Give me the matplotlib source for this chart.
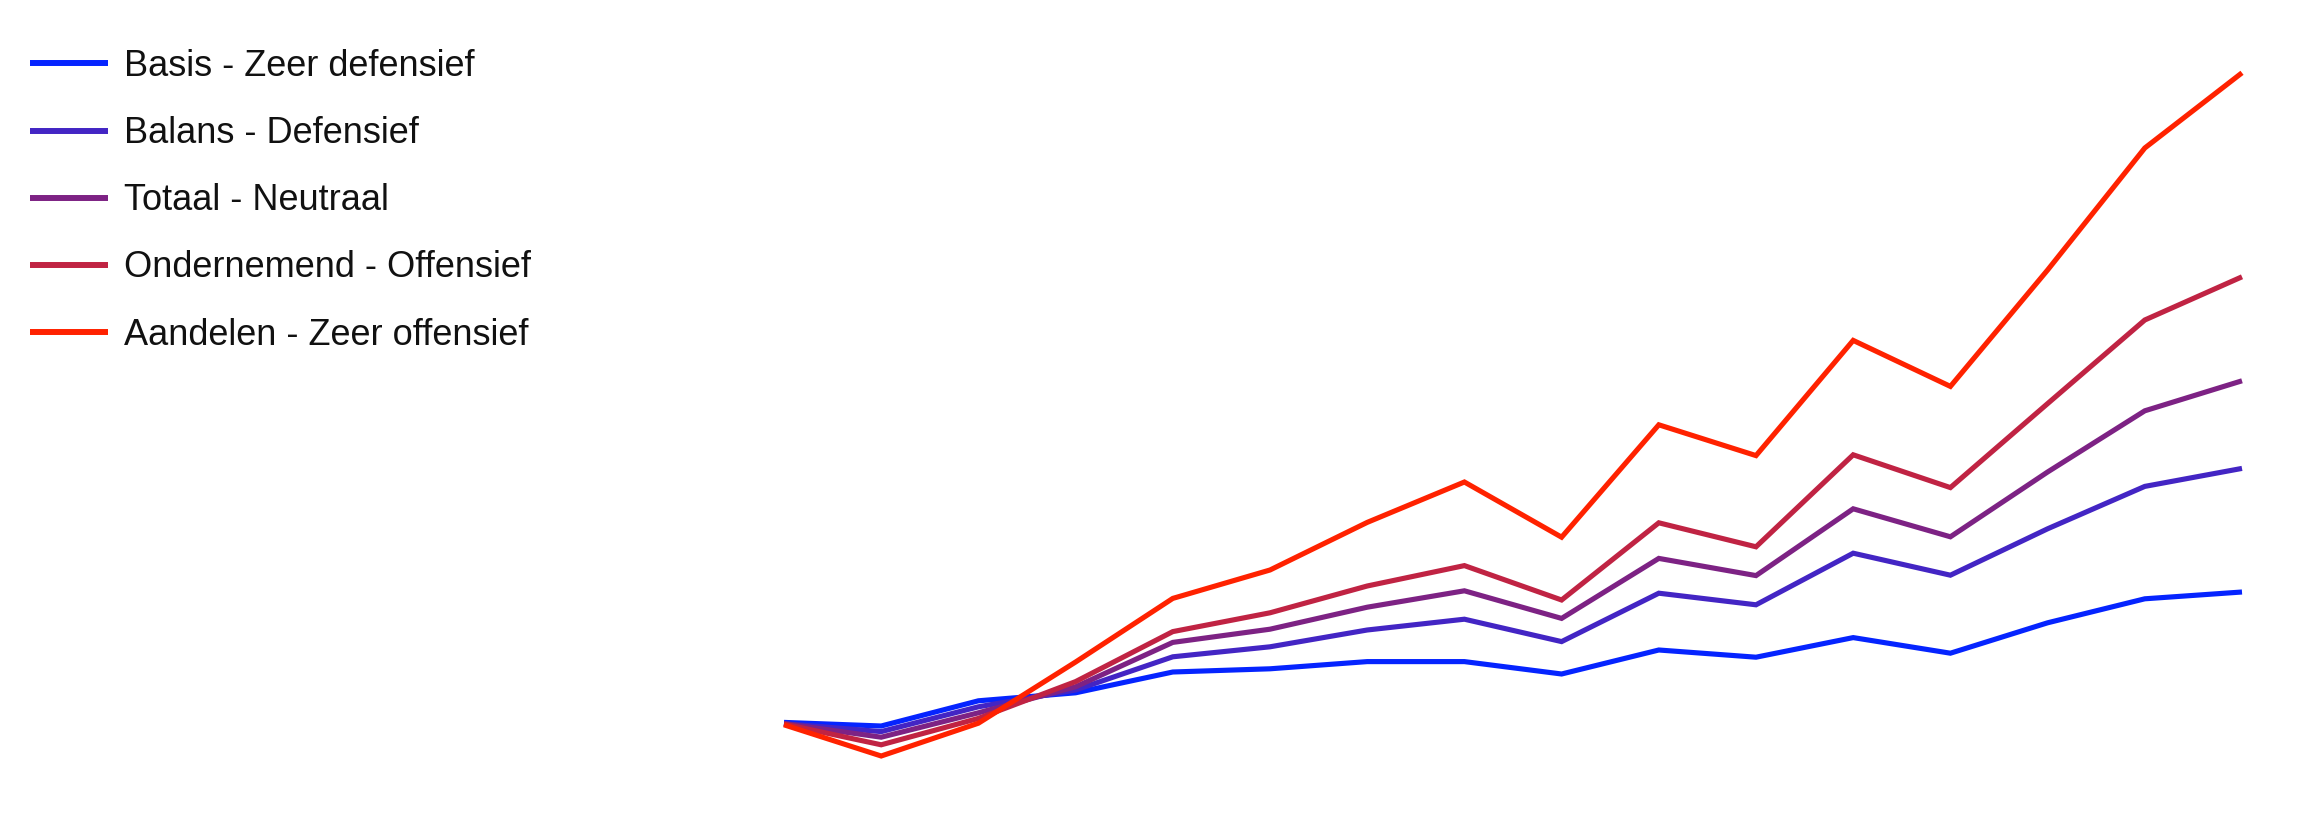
import matplotlib
matplotlib.use("Agg")
import matplotlib.pyplot as plt

plt.rcParams['font.family'] = ['Liberation Sans', 'DejaVu Sans']

# Data (index values; start ~100)
periods = list(range(16))
series_names = [
    "Basis - Zeer defensief",
    "Balans - Defensief",
    "Totaal - Neutraal",
    "Ondernemend - Offensief",
    "Aandelen - Zeer offensief",
]
basis = [100.4, 99.5, 105.8, 107.8, 113.0, 113.8, 115.6, 115.6, 112.5, 118.5, 116.7, 121.6, 117.7, 125.3, 131.3, 133.0]
balans = [100.1, 98.1, 104.3, 108.5, 116.8, 119.3, 123.5, 126.2, 120.6, 132.7, 129.8, 142.7, 137.2, 148.8, 159.4, 163.9]
totaal = [100.1, 96.7, 102.8, 109.3, 120.4, 123.7, 129.2, 133.3, 126.4, 141.4, 137.1, 153.8, 146.8, 163.0, 178.3, 185.8]
ondernemend = [100.0, 94.8, 101.4, 110.6, 123.1, 127.8, 134.5, 139.6, 131.0, 150.3, 144.3, 167.3, 159.1, 180.1, 201.0, 211.8]
aandelen = [99.8, 92.0, 100.2, 115.5, 131.4, 138.5, 150.4, 160.5, 146.7, 174.8, 167.1, 195.9, 184.4, 213.5, 244.0, 262.8]

colors = ["#0524FF", "#4325C4", "#7D2284", "#C02343", "#FF2200"]

W, H, DPI = 2310, 840, 100
fig = plt.figure(figsize=(W / DPI, H / DPI), dpi=DPI)
fig.patch.set_facecolor("white")
ax = fig.add_axes([0, 0, 1, 1])
ax.set_axis_off()

for name, vals, c in zip(series_names, [basis, balans, totaal, ondernemend, aandelen], colors):
    ax.plot(periods, vals, color=c, lw=3.7, label=name, solid_joinstyle="miter",
            solid_capstyle="butt")

# map: x index 0 -> 784px, 15 -> 2242px ; y value 100 -> 724px from top, 4 px per unit
px_per_x = (2242 - 784) / 15
ax.set_xlim(-784 / px_per_x, (W - 784) / px_per_x)
ax.set_ylim(100 - (H - 724) / 4, 100 + 724 / 4)

leg = ax.legend(loc="upper left", bbox_to_anchor=(29.5 / W, 1 - 49 / H),
                bbox_transform=fig.transFigure, frameon=False, fontsize=26,
                handlelength=2.17, handletextpad=0.46, labelspacing=0.89,
                borderpad=0, borderaxespad=0)
for line in leg.get_lines():
    line.set_linewidth(4.3)
for t in leg.get_texts():
    t.set_color("#111111")

fig.savefig("out.png", dpi=DPI, facecolor="white")
